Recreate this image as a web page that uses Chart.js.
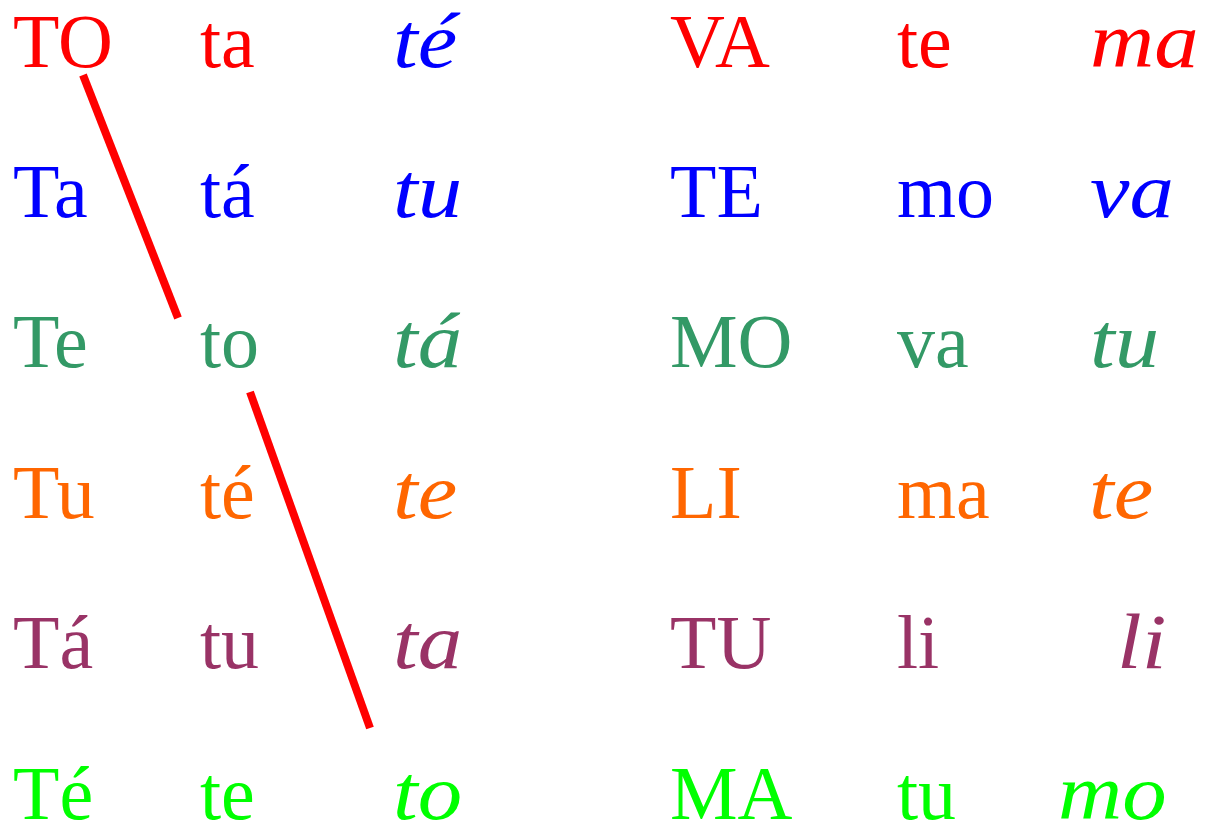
<!DOCTYPE html>
<html>
<head>
<meta charset="utf-8">
<script src="https://cdn.jsdelivr.net/npm/chart.js@4"></script>
<style>
  html, body { margin: 0; padding: 0; background: #ffffff; }
  #wrap { width: 1217px; height: 828px; }
</style>
</head>
<body>
<div id="wrap"><canvas id="myChart"></canvas></div>
<script>
// syllable grid, one array per column
var col1 = ["TO", "Ta", "Te", "Tu", "Tá", "Té"];
var col2 = ["ta", "tá", "to", "té", "tu", "te"];
var col3 = ["té", "tu", "tá", "te", "ta", "to"];
var col4 = ["VA", "TE", "MO", "LI", "TU", "MA"];
var col5 = ["te", "mo", "va", "ma", "li", "tu"];
var col6 = ["ma", "va", "tu", "te", "li", "mo"];

// where each column starts (x) and each row's baseline (y)
var colX = [13, 200, 393, 670, 897, 1090];
var col6X = [1090, 1090, 1090, 1089, 1117, 1058];
var rowY = [67, 217, 367, 518, 668, 819];

// row colours, the third column of the first row is the odd one out
var rowColors = ["#FF0000", "#0000FF", "#339966", "#FF6600", "#993366", "#00FF00"];
var col3Colors = ["#0000FF", "#0000FF", "#339966", "#FF6600", "#993366", "#00FF00"];

// the two red strokes
var stroke1 = [{x: 83, y: 75}, {x: 178, y: 318}];
var stroke2 = [{x: 250, y: 392}, {x: 370, y: 728}];

var columns = [col1, col2, col3, col4, col5, col6];

var wordPlugin = {
    id: "words",
    afterDatasetsDraw: function(chart) {
        var ctx = chart.ctx;
        var xs = chart.scales.x;
        var ys = chart.scales.y;
        ctx.save();
        ctx.textAlign = "left";
        ctx.textBaseline = "alphabetic";
        for (var c = 0; c < columns.length; c++) {
            var italic = (c == 2 || c == 5);
            ctx.font = italic ? "italic 78px 'Liberation Serif'" : "76px 'Liberation Serif'";
            for (var r = 0; r < columns[c].length; r++) {
                var x = (c == 5) ? col6X[r] : colX[c];
                var px = xs.getPixelForValue(x);
                var py = ys.getPixelForValue(rowY[r]);
                ctx.fillStyle = (c == 2) ? col3Colors[r] : rowColors[r];
                if (italic) {
                    // script face in the original runs wider
                    ctx.save();
                    ctx.translate(px, py);
                    ctx.scale(1.14, 1);
                    ctx.fillText(columns[c][r], 0, 0);
                    ctx.restore();
                } else {
                    ctx.fillText(columns[c][r], px, py);
                }
            }
        }
        ctx.restore();
    }
};

var ctx = document.getElementById("myChart").getContext("2d");
var myChart = new Chart(ctx, {
    type: "scatter",
    data: {
        datasets: [
            {data: stroke1, showLine: true, borderColor: "#FF0000", borderWidth: 8, pointRadius: 0, borderCapStyle: "butt"},
            {data: stroke2, showLine: true, borderColor: "#FF0000", borderWidth: 8, pointRadius: 0, borderCapStyle: "butt"}
        ]
    },
    options: {
        responsive: true,
        maintainAspectRatio: false,
        animation: false,
        layout: { padding: 0 },
        plugins: { legend: { display: false }, tooltip: { enabled: false } },
        scales: {
            x: { type: "linear", min: 0, max: 1217, display: false },
            y: { type: "linear", min: 0, max: 828, reverse: true, display: false }
        }
    },
    plugins: [wordPlugin]
});
</script>
</body>
</html>
